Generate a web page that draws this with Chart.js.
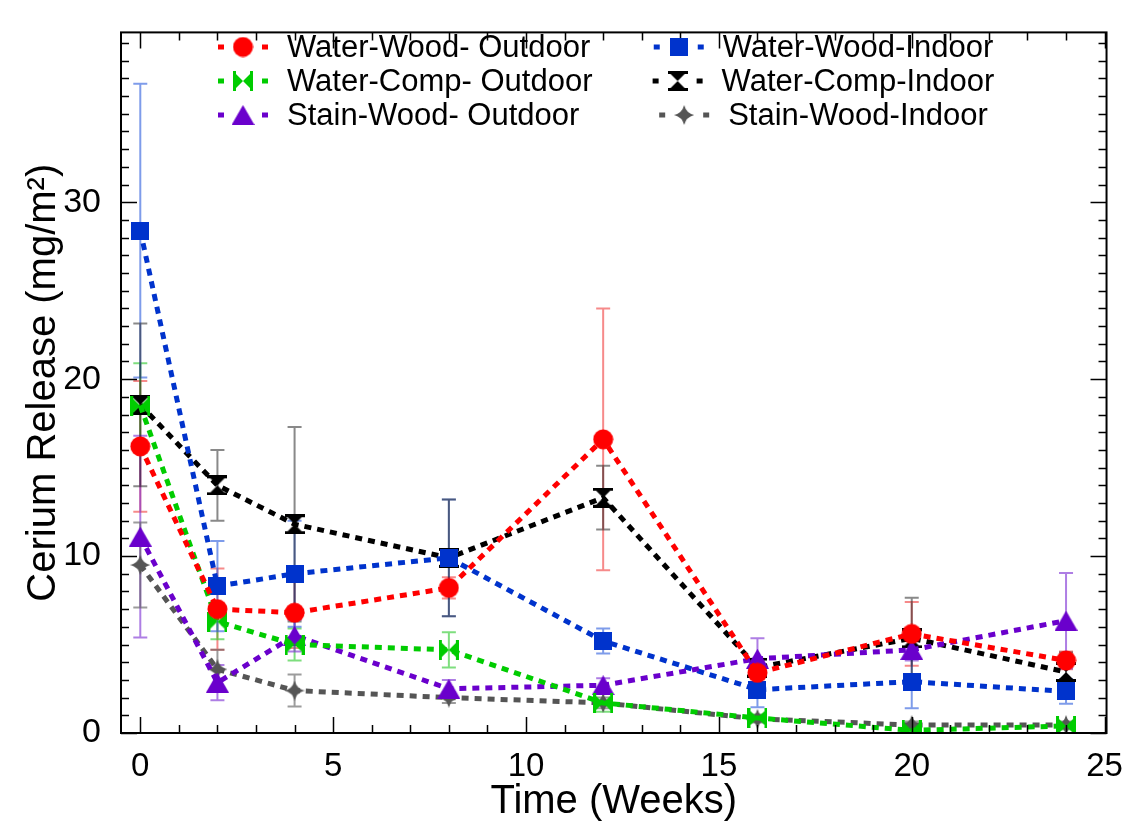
<!DOCTYPE html>
<html>
<head>
<meta charset="utf-8">
<script src="https://cdn.jsdelivr.net/npm/chart.js@4/dist/chart.umd.min.js"></script>
<style>
  body { margin: 0; background: #fff; }
  canvas { display: block; }
</style>
</head>
<body>
<canvas id="c" width="1129" height="823"></canvas>
<script>
// data (mean ± sd)
const weeks = [0, 2, 4, 8, 12, 16, 20, 24];

const waterWoodOut    = [16.2, 7.0, 6.8, 8.2, 16.6, 3.4, 5.6, 4.1];
const waterWoodOutErr = [3.7, 2.3, 2.0, 0.6, 7.4, 0.5, 1.8, 0.5];

const waterCompOut    = [18.5, 6.3, 5.0, 4.7, 1.7, 0.85, 0.15, 0.4];
const waterCompOutErr = [2.4, 1.0, 0.9, 1.0, 0.5, 0.2, 0.2, 0.2];

const stainWoodOut    = [11.1, 2.85, 5.5, 2.5, 2.7, 4.2, 4.7, 6.35];
const stainWoodOutErr = [5.7, 1.0, 0.9, 0.5, 0.4, 1.15, 0.6, 2.7];

const waterWoodIn     = [28.4, 8.3, 9.0, 9.9, 5.2, 2.45, 2.9, 2.35];
const waterWoodInErr  = [8.3, 2.55, 3.0, 3.3, 0.7, 1.0, 1.5, 0.7];

const waterCompIn     = [18.55, 14.0, 11.8, 9.9, 13.3, 3.7, 5.35, 3.45];
const waterCompInErr  = [4.6, 2.0, 5.5, 3.3, 1.8, 0.5, 2.3, 1.1];

const stainWoodIn     = [9.5, 3.6, 2.4, 2.0, 1.7, 0.8, 0.45, 0.45];
const stainWoodInErr  = [2.4, 1.1, 0.9, 0.3, 0.3, 0.2, 0.2, 0.2];

const xTickValues = [0, 5, 10, 15, 20, 25];
const yTickValues = [0, 10, 20, 30];

const FONT = "'Liberation Sans', Arial, sans-serif";

// marker images
function marker(w, h, fn) {
  const c = document.createElement('canvas');
  c.width = w; c.height = h;
  const g = c.getContext('2d');
  fn(g, w, h);
  return c;
}
const mkCircle = col => marker(21, 21, (g) => {
  g.fillStyle = col; g.beginPath(); g.arc(10.5, 10.5, 10, 0, Math.PI * 2); g.fill();
});
const mkSquare = col => marker(18, 18, (g) => { g.fillStyle = col; g.fillRect(0, 0, 18, 18); });
const mkTriangle = col => marker(23, 20, (g) => {
  g.fillStyle = col; g.beginPath(); g.moveTo(11.5, 0); g.lineTo(23, 20); g.lineTo(0, 20); g.closePath(); g.fill();
});
const mkBowtie = col => marker(20, 20, (g) => {
  g.fillStyle = col; g.beginPath();
  g.moveTo(0, 0); g.lineTo(10, 10); g.lineTo(0, 20); g.closePath();
  g.moveTo(20, 0); g.lineTo(10, 10); g.lineTo(20, 20); g.closePath(); g.fill();
  g.fillRect(0, 0, 3, 20); g.fillRect(17, 0, 3, 20);
});
const mkHourglass = col => marker(20, 20, (g) => {
  g.fillStyle = col; g.beginPath();
  g.moveTo(0, 0); g.lineTo(20, 0); g.lineTo(10, 10); g.closePath();
  g.moveTo(0, 20); g.lineTo(20, 20); g.lineTo(10, 10); g.closePath(); g.fill();
  g.fillRect(0, 0, 20, 3); g.fillRect(0, 17, 20, 3);
});
const mkStar4 = col => marker(20, 20, (g) => {
  g.fillStyle = col; g.beginPath();
  g.moveTo(10, 0); g.quadraticCurveTo(12, 8, 20, 10); g.quadraticCurveTo(12, 12, 10, 20);
  g.quadraticCurveTo(8, 12, 0, 10); g.quadraticCurveTo(8, 8, 10, 0); g.fill();
});

function series(label, vals, errs, color, errColor, img) {
  return {
    label: label,
    data: weeks.map((w, i) => ({ x: w, y: vals[i] })),
    errors: errs,
    errColor: errColor,
    borderColor: color,
    backgroundColor: color,
    borderWidth: 5,
    borderDash: [7, 6],
    pointStyle: img,
    pointRadius: 10,
    tension: 0,
    fill: false
  };
}

const datasets = [
  series('Water-Wood- Outdoor', waterWoodOut, waterWoodOutErr, '#ff0000', 'rgba(240,60,60,0.6)', mkCircle('#ff0000')),
  series('Water-Comp- Outdoor', waterCompOut, waterCompOutErr, '#00cc00', 'rgba(40,200,40,0.6)', mkBowtie('#00cc00')),
  series('Stain-Wood- Outdoor', stainWoodOut, stainWoodOutErr, '#6a00cc', 'rgba(120,40,210,0.6)', mkTriangle('#6a00cc')),
  series('Water-Wood-Indoor', waterWoodIn, waterWoodInErr, '#0033cc', 'rgba(40,90,220,0.6)', mkSquare('#0033cc')),
  series('Water-Comp-Indoor', waterCompIn, waterCompInErr, '#000000', 'rgba(20,20,20,0.5)', mkHourglass('#000000')),
  series('Stain-Wood-Indoor', stainWoodIn, stainWoodInErr, '#555555', 'rgba(90,90,90,0.6)', mkStar4('#555555'))
];

const errorBars = {
  id: 'errorBars',
  beforeDatasetsDraw(chart) {
    const { ctx, scales: { x, y } } = chart;
    ctx.save();
    ctx.lineWidth = 2;
    chart.data.datasets.forEach(ds => {
      ctx.strokeStyle = ds.errColor;
      ds.data.forEach((p, i) => {
        const e = ds.errors[i];
        const px = x.getPixelForValue(p.x);
        const y1 = y.getPixelForValue(p.y + e);
        const y2 = y.getPixelForValue(Math.max(p.y - e, 0));
        ctx.beginPath();
        ctx.moveTo(px, y1); ctx.lineTo(px, y2);
        ctx.moveTo(px - 7, y1); ctx.lineTo(px + 7, y1);
        ctx.moveTo(px - 7, y2); ctx.lineTo(px + 7, y2);
        ctx.stroke();
      });
    });
    ctx.restore();
  }
};

const frame = {
  id: 'frame',
  afterDraw(chart) {
    const { ctx, chartArea: { left, right, top, bottom }, scales: { x, y } } = chart;
    ctx.save();
    ctx.strokeStyle = '#000';
    ctx.lineWidth = 2;
    ctx.strokeRect(left, top, right - left, bottom - top);
    ctx.lineWidth = 1.5;
    ctx.beginPath();
    for (let v = Math.ceil(x.min); v <= x.max; v++) {
      const px = Math.round(x.getPixelForValue(v)) + 0.5;
      const len = v % 5 === 0 ? 16 : 8;
      ctx.moveTo(px, bottom); ctx.lineTo(px, bottom - len);
      ctx.moveTo(px, top); ctx.lineTo(px, top + len);
    }
    for (let v = Math.ceil(y.min); v <= y.max; v++) {
      const py = Math.round(y.getPixelForValue(v)) + 0.5;
      const len = v % 10 === 0 ? 16 : 8;
      ctx.moveTo(left, py); ctx.lineTo(left + len, py);
      ctx.moveTo(right, py); ctx.lineTo(right - len, py);
    }
    ctx.stroke();
    ctx.restore();
  }
};

const legendBox = {
  id: 'legendBox',
  afterDraw(chart) {
    const { ctx } = chart;
    const rows = [47, 81, 115];
    ctx.save();
    ctx.font = '31px ' + FONT;
    ctx.textBaseline = 'middle';
    chart.data.datasets.forEach((ds, i) => {
      const col = Math.floor(i / 3);
      const yy = rows[i % 3];
      const textW = ctx.measureText(ds.label).width;
      let x0 = 218;
      if (col === 1) x0 = 824 - (50 + 20 + textW) / 2;
      ctx.strokeStyle = ds.borderColor;
      ctx.lineWidth = 5;
      ctx.setLineDash([6, 38]);
      ctx.beginPath(); ctx.moveTo(x0, yy); ctx.lineTo(x0 + 50, yy); ctx.stroke();
      const img = ds.pointStyle;
      ctx.drawImage(img, x0 + 25 - img.width / 2, yy - img.height / 2);
      ctx.fillStyle = '#000';
      ctx.fillText(ds.label, x0 + 69, yy + 1);
    });
    ctx.restore();
  }
};

new Chart(document.getElementById('c'), {
  type: 'line',
  data: { datasets: datasets },
  options: {
    responsive: false,
    animation: false,
    layout: { padding: { left: 16, right: 22, top: 12, bottom: 0 } },
    plugins: { legend: { display: false }, tooltip: { enabled: false } },
    scales: {
      x: {
        type: 'linear',
        min: -0.5,
        max: 25.05,
        afterBuildTicks: s => { s.ticks = xTickValues.map(v => ({ value: v })); },
        afterFit: s => { s.height = 90; },
        grid: { display: false },
        border: { display: false },
        ticks: { color: '#000', font: { size: 33, family: FONT }, padding: 6, maxRotation: 0 },
        title: { display: true, text: 'Time (Weeks)', color: '#000', font: { size: 40, family: FONT }, padding: { top: 0, bottom: -3 } }
      },
      y: {
        type: 'linear',
        min: 0,
        max: 39.6,
        afterBuildTicks: s => { s.ticks = yTickValues.map(v => ({ value: v })); },
        afterFit: s => { s.width = 105; },
        grid: { display: false },
        border: { display: false },
        ticks: { color: '#000', font: { size: 34, family: FONT }, padding: 12 },
        title: { display: true, text: 'Cerium Release (mg/m²)', color: '#000', font: { size: 40, family: FONT }, padding: 4 }
      }
    }
  },
  plugins: [errorBars, frame, legendBox]
});
</script>
</body>
</html>
